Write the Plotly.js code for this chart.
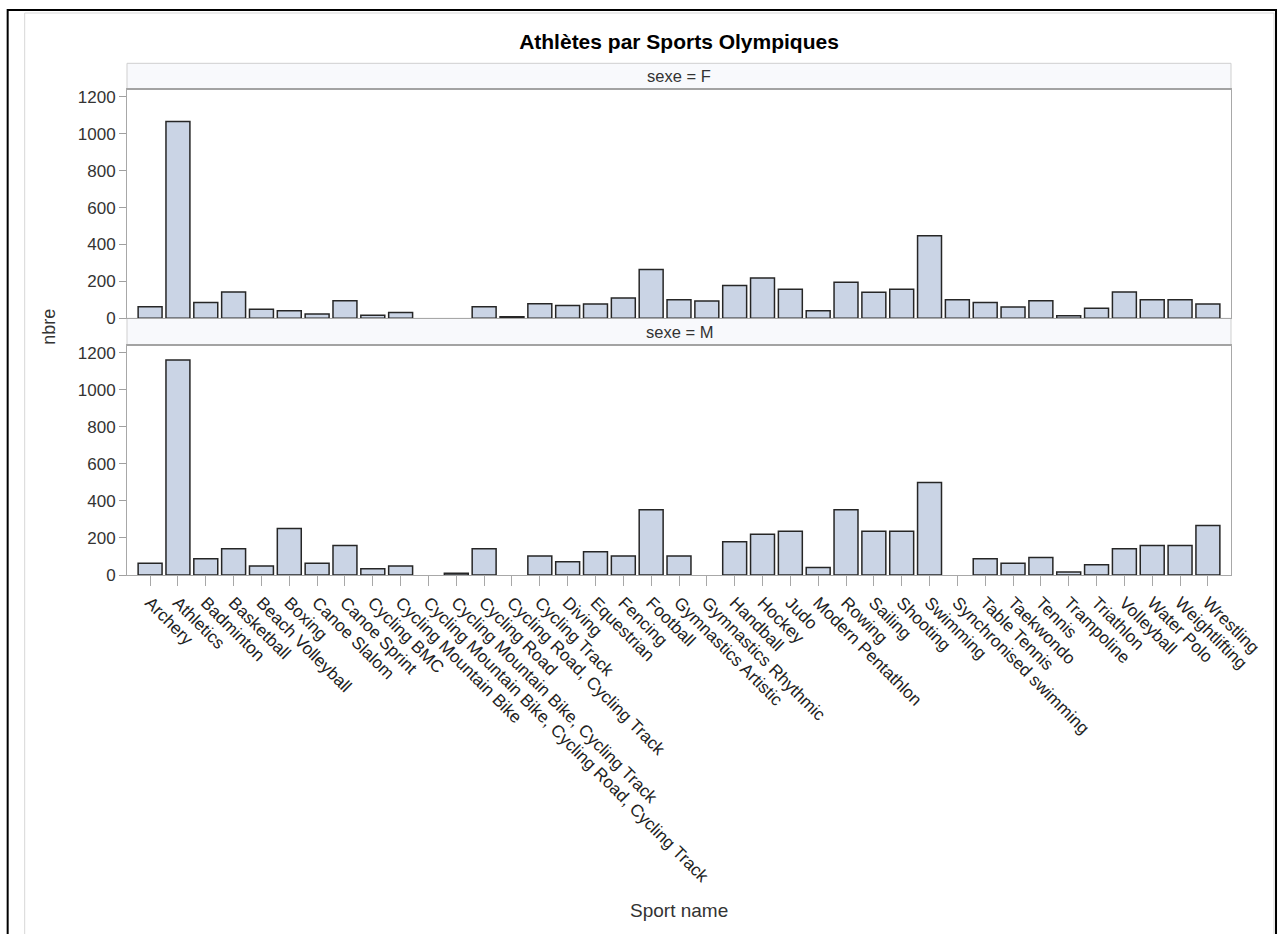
<!DOCTYPE html>
<html>
<head>
<meta charset="utf-8">
<script src="https://cdn.plot.ly/plotly-3.0.1.min.js"></script>
<style>
html,body{margin:0;padding:0;background:#fff;}
#chart{width:1282px;height:934px;}
</style>
</head>
<body>
<div id="chart"></div>
<script>
const sports = ["Archery","Athletics","Badminton","Basketball","Beach Volleyball","Boxing","Canoe Slalom","Canoe Sprint","Cycling BMC","Cycling Mountain Bike","Cycling Mountain Bike, Cycling Road, Cycling Track","Cycling Mountain Bike, Cycling Track","Cycling Road","Cycling Road, Cycling Track","Cycling Track","Diving","Equestrian","Fencing","Football","Gymnastics Artistic","Gymnastics Rhythmic","Handball","Hockey","Judo","Modern Pentathlon","Rowing","Sailing","Shooting","Swimming","Synchronised swimming","Table Tennis","Taekwondo","Tennis","Trampoline","Triathlon","Volleyball","Water Polo","Weightlifting","Wrestling"];

const countF = [63,1067,86,142,49,41,23,95,16,31,null,null,63,9,79,70,77,110,265,101,94,178,218,157,41,196,141,157,447,101,86,61,95,14,54,142,101,101,77];

const countM = [63,1162,88,142,49,251,63,159,34,49,null,9,142,null,103,72,126,103,352,103,null,180,220,236,40,352,236,236,500,null,88,63,95,16,56,142,159,159,267];

const yTicks = [0,200,400,600,800,1000,1200];

const FONT = "Liberation Sans, Arial, sans-serif";
const barStyle = {color:"#cad4e5", line:{color:"#262626", width:1.5}};

const traces = [
  {type:"bar", x:sports, y:countF, xaxis:"x2", yaxis:"y2", marker:barStyle, width:0.86, hoverinfo:"x+y"},
  {type:"bar", x:sports, y:countM, xaxis:"x", yaxis:"y", marker:barStyle, width:0.86, hoverinfo:"x+y"}
];

// pixel -> paper helpers (plot area: x 127.3..1231, y 63..575)
const L=127.3, R=1231, T=63, B=575;
const px = v => (v-L)/(R-L);
const py = v => (B-v)/(B-T);

const yAxisCommon = {
  range:[0,1243], tickvals:yTicks, ticktext:yTicks.map(String),
  ticks:"outside", ticklen:7, tickcolor:"#a0a0a0", tickwidth:1,
  showgrid:false, zeroline:false, showline:true, linecolor:"#a8a8a8", linewidth:1, mirror:true,
  tickfont:{family:FONT, size:17, color:"#333"}, fixedrange:true
};
const xAxisCommon = {
  type:"category", categoryarray:sports, range:[-0.83,38.83],
  showgrid:false, zeroline:false, showline:true, linecolor:"#a8a8a8", linewidth:1, mirror:true,
  fixedrange:true
};

const layout = {
  width:1282, height:934,
  margin:{l:L, r:1282-R, t:T, b:934-B, pad:0},
  paper_bgcolor:"#fff", plot_bgcolor:"#fff",
  showlegend:false, bargap:0.14,
  font:{family:FONT, color:"#333"},
  title:{text:"<b>Athlètes par Sports Olympiques</b>", x:0.5, xref:"paper", y:1-41.7/934, yanchor:"middle", yref:"container", font:{family:FONT, size:21, color:"#000"}},
  xaxis:Object.assign({}, xAxisCommon, {anchor:"y", ticks:"outside", ticklen:10, tickcolor:"#a8a8a8", tickangle:45, tickfont:{family:FONT, size:17.2, color:"#222"}, automargin:false}),
  xaxis2:Object.assign({}, xAxisCommon, {anchor:"y2", matches:"x", showticklabels:false, ticks:""}),
  yaxis:Object.assign({}, yAxisCommon, {domain:[0, py(345)]}),
  yaxis2:Object.assign({}, yAxisCommon, {domain:[py(318.3), py(89)]}),
  shapes:[
    {type:"rect", xref:"paper", yref:"paper", x0:px(8), x1:px(1276), y0:py(945), y1:py(10), line:{color:"#000", width:2}, fillcolor:"rgba(0,0,0,0)", layer:"below"},
    {type:"rect", xref:"paper", yref:"paper", x0:px(25), x1:px(1274), y0:py(945), y1:py(13), line:{color:"#d8d8d8", width:1}, fillcolor:"rgba(0,0,0,0)", layer:"below"},
    {type:"rect", xref:"paper", yref:"paper", x0:0, x1:1, y0:py(89), y1:py(63.3), line:{color:"#cfcfcf", width:1}, fillcolor:"#f8f9fc", layer:"below"},
    {type:"line", xref:"paper", yref:"paper", x0:0, x1:1, y0:py(89), y1:py(89), line:{color:"#a3a3a3", width:2}},
    {type:"rect", xref:"paper", yref:"paper", x0:0, x1:1, y0:py(345), y1:py(318.3), line:{color:"#cfcfcf", width:1}, fillcolor:"#f8f9fc", layer:"below"},
    {type:"line", xref:"paper", yref:"paper", x0:0, x1:1, y0:py(345), y1:py(345), line:{color:"#a3a3a3", width:2}}
  ],
  annotations:[
    {text:"sexe = F", xref:"paper", yref:"paper", x:0.5, y:py(76), xanchor:"center", yanchor:"middle", showarrow:false, font:{family:FONT, size:16.5, color:"#333"}},
    {text:"sexe = M", xref:"paper", yref:"paper", x:0.5, y:py(331.7), xanchor:"center", yanchor:"middle", showarrow:false, font:{family:FONT, size:16.5, color:"#333"}},
    {text:"nbre", xref:"paper", yref:"paper", x:px(49), y:py(327), xanchor:"center", yanchor:"middle", textangle:-90, showarrow:false, font:{family:FONT, size:18, color:"#333"}},
    {text:"Sport name", xref:"paper", yref:"paper", x:0.5, y:py(910), xanchor:"center", yanchor:"middle", showarrow:false, font:{family:FONT, size:19, color:"#333"}}
  ]
};

Plotly.newPlot("chart", traces, layout, {displayModeBar:false, staticPlot:true});
</script>
</body>
</html>
